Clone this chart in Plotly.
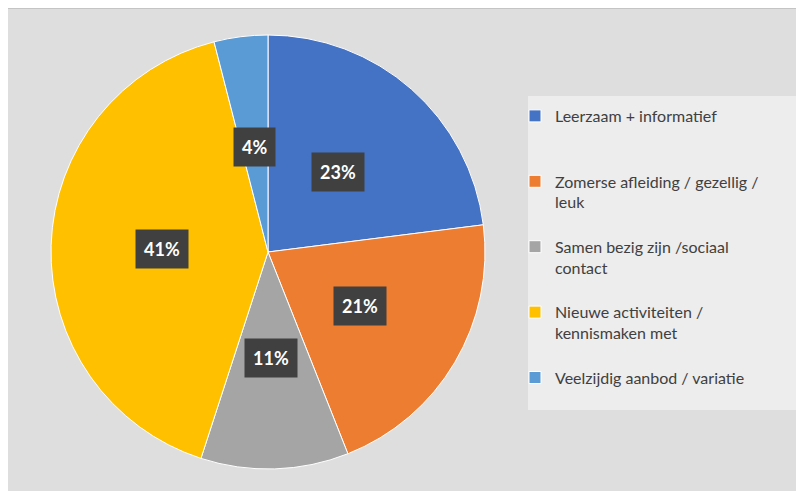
import math
import plotly.graph_objects as go

categories = [
    "Leerzaam + informatief",
    "Zomerse afleiding / gezellig / leuk",
    "Samen bezig zijn /sociaal contact",
    "Nieuwe activiteiten / kennismaken met",
    "Veelzijdig aanbod / variatie",
]
legend_labels = [
    "Leerzaam + informatief<br> <br> ",
    "Zomerse afleiding / gezellig /<br>leuk<br> ",
    "Samen bezig zijn /sociaal<br>contact<br> ",
    "Nieuwe activiteiten /<br>kennismaken met<br> ",
    "Veelzijdig aanbod / variatie<br> <br> ",
]
values = [23, 21, 11, 41, 4]
colors = ["#4472C4", "#ED7D31", "#A5A5A5", "#FFC000", "#5B9BD5"]

OFF = 8  # default page margin around the plot
W, H = 804 - OFF, 491 - OFF


def px_x(x):
    return (x - OFF) / W


def px_y(y):
    return (H - (y - OFF)) / H


cx_px, cy_px, R = 268, 252, 217
dom_x = [px_x(cx_px - R), px_x(cx_px + R)]
dom_y = [px_y(cy_px + R), px_y(cy_px - R)]

fig = go.Figure()
fig.add_trace(go.Pie(
    labels=legend_labels,
    values=values,
    sort=False,
    direction="clockwise",
    rotation=0,
    marker=dict(colors=colors, line=dict(color="#ffffff", width=1)),
    textinfo="none",
    hoverinfo="label+percent",
    domain=dict(x=dom_x, y=dom_y),
))

# percentage labels in dark boxes, positioned from the data
total = sum(values)
cum = 0
annotations = []
for v in values:
    mid = (cum + v / 2) / total * 2 * math.pi
    cum += v
    r = 0.49 * R
    px = cx_px + r * math.sin(mid)
    py = cy_px - r * math.cos(mid)
    annotations.append(dict(
        x=px_x(px), y=px_y(py), xref="paper", yref="paper",
        text="<b>%d%%</b>" % round(v / total * 100),
        showarrow=False,
        font=dict(family="Lato, sans-serif", size=18, color="#ffffff"),
        bgcolor="#404040", borderpad=8,
        xanchor="center", yanchor="middle",
    ))

shapes = [
    dict(type="rect", xref="paper", yref="paper", x0=px_x(528), x1=1, y0=px_y(410), y1=px_y(96),
         fillcolor="#ededed", line=dict(width=0), layer="below"),
    dict(type="line", xref="paper", yref="paper", x0=0, x1=1, y0=1, y1=1,
         line=dict(color="#c4c4c4", width=2), layer="below"),
]

fig.update_layout(
    width=W, height=H,
    margin=dict(l=0, r=0, t=0, b=0),
    paper_bgcolor="#dedede",
    plot_bgcolor="#dedede",
    showlegend=True,
    legend=dict(
        x=px_x(515), y=px_y(99), xanchor="left", yanchor="top",
        bgcolor="rgba(0,0,0,0)",
        font=dict(family="Lato, sans-serif", size=16, color="#404040"),
        valign="top",
        itemclick=False, itemdoubleclick=False,
    ),
    annotations=annotations,
    shapes=shapes,
)

fig.write_html("out.html")
